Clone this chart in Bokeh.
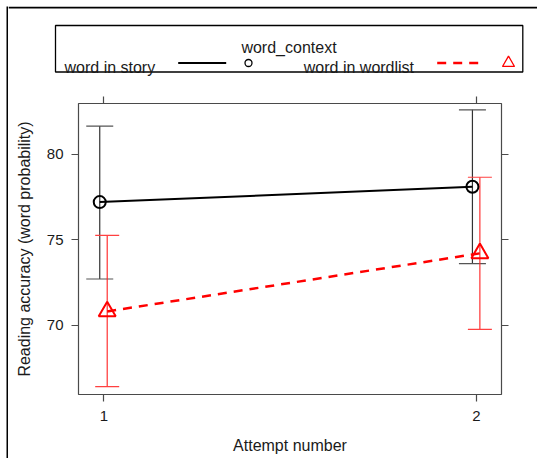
import numpy as np
from bokeh.plotting import figure
from bokeh.models import ColumnDataSource, Whisker, TeeHead, Range1d, LinearAxis, FixedTicker
from bokeh.layouts import column, row
from bokeh.embed import file_html
from bokeh.resources import INLINE
from bokeh.core.properties import value

# ---- data ----
attempts = [1, 2]
contexts = ["word in story", "word in wordlist"]
story_mean = [77.2, 78.1]
story_lower = [72.7, 73.6]
story_upper = [81.65, 82.6]
wordlist_mean = [70.8, 74.2]
wordlist_lower = [66.4, 69.75]
wordlist_upper = [75.25, 78.65]
x_ticks = [1, 2]
y_ticks = [70, 75, 80]
legend_title = "word_context"
x_label = "Attempt number"
y_label = "Reading accuracy (word probability)"

FONT = "Liberation Sans"
FRAME = "#4a4a4a"
TXT = "#1a1a1a"
DODGE_STORY = -0.011
DODGE_LIST = 0.009

# ---- main plot ----
p = figure(width=521, height=370, x_range=Range1d(0.932, 2.067), y_range=Range1d(65.94, 82.97),
           output_backend="svg", toolbar_location=None,
           min_border_left=70, min_border_right=28, min_border_top=15, min_border_bottom=64)
p.frame_align = False
p.grid.visible = False
p.outline_line_color = FRAME
p.outline_line_width = 1.2

def style_axis(ax, ticks, show_labels=True):
    ax.ticker = FixedTicker(ticks=ticks)
    ax.axis_line_color = None
    ax.major_tick_out = 7
    ax.major_tick_in = 0
    ax.minor_tick_line_color = None
    ax.major_tick_line_color = FRAME
    ax.major_tick_line_width = 1.2
    ax.major_label_text_font = FONT
    ax.major_label_text_color = TXT
    ax.major_label_text_font_size = "15px"
    ax.axis_label_text_font = FONT
    ax.axis_label_text_color = TXT
    ax.axis_label_text_font_style = "normal"
    ax.axis_label_text_font_size = "16px"
    if not show_labels:
        ax.major_label_overrides = {t: "" for t in ticks}
        ax.major_label_standoff = 0

style_axis(p.xaxis[0], x_ticks)
style_axis(p.yaxis[0], y_ticks)
p.xaxis[0].axis_label = x_label
p.yaxis[0].axis_label = y_label
p.xaxis[0].major_label_standoff = 9
p.xaxis[0].axis_label_standoff = 13
p.yaxis[0].major_label_standoff = 8
p.yaxis[0].axis_label_standoff = 11

top_ax = LinearAxis()
style_axis(top_ax, x_ticks, show_labels=False)
p.add_layout(top_ax, "above")
right_ax = LinearAxis()
style_axis(right_ax, y_ticks, show_labels=False)
p.add_layout(right_ax, "right")

src_story = ColumnDataSource(dict(x=np.array(attempts) + DODGE_STORY, y=story_mean,
                                  lo=story_lower, hi=story_upper))
src_list = ColumnDataSource(dict(x=np.array(attempts) + DODGE_LIST, y=wordlist_mean,
                                 lo=wordlist_lower, hi=wordlist_upper))

wb = Whisker(base="x", upper="hi", lower="lo", source=src_story, dimension="height",
             line_color="#333333", line_width=1.2,
             upper_head=TeeHead(size=27, line_color="#555555", line_width=1.2),
             lower_head=TeeHead(size=27, line_color="#555555", line_width=1.2))
wr = Whisker(base="x", upper="hi", lower="lo", source=src_list, dimension="height",
             line_color="#ff2020", line_width=1.1,
             upper_head=TeeHead(size=24, line_color="#ff4040", line_width=1.1),
             lower_head=TeeHead(size=24, line_color="#ff4040", line_width=1.1))
p.add_layout(wb)
p.add_layout(wr)

p.line("x", "y", source=src_story, line_color="black", line_width=2)
p.scatter("x", "y", source=src_story, marker="circle", size=12, fill_color=None,
          line_color="black", line_width=2)
p.line("x", "y", source=src_list, line_color="red", line_width=2.5, line_dash="9 7")
p.scatter("x", "y", source=src_list, marker="triangle", size=17, fill_color=None,
          line_color="red", line_width=2)

# ---- legend (lattice-style key) with the picture's top border ----
lg = figure(width=529, height=82, x_range=Range1d(0, 529), y_range=Range1d(82, 0),
            output_backend="svg", toolbar_location=None, x_axis_type=None, y_axis_type=None,
            min_border=0)
lg.frame_align = False
lg.grid.visible = False
lg.outline_line_color = None
lg.quad(left=[0], right=[529], top=[0], bottom=[2], fill_color="black", line_color=None)
lg.quad(left=[47], right=[514.3], top=[19], bottom=[65.5], fill_color=None,
        line_color="black", line_width=1.3)
lg.text(x=[280.5], y=[41], text=[legend_title], text_align="center", text_baseline="alphabetic",
        text_font=value(FONT), text_font_size="16px", text_color=TXT)
lg.text(x=[56, 295.3], y=[61, 61], text=contexts, text_align="left", text_baseline="alphabetic",
        text_font=value(FONT), text_font_size="16px", text_color=TXT)
lg.line(x=[169.7, 217.7], y=[56.5, 56.5], line_color="black", line_width=2)
lg.scatter(x=[240], y=[56.5], marker="circle", size=7, fill_color=None, line_color="black",
           line_width=1.3)
lg.line(x=[428.7, 472], y=[56.5, 56.5], line_color="red", line_width=2.5, line_dash="9 7")
lg.scatter(x=[500], y=[56.5], marker="triangle", size=12, fill_color=None, line_color="red",
           line_width=1.3)

# ---- left border of the picture ----
left_bar = figure(width=2, height=452, output_backend="svg", toolbar_location=None,
                  x_axis_type=None, y_axis_type=None, min_border=0,
                  background_fill_color="black", border_fill_color="black")
left_bar.frame_align = False
left_bar.outline_line_color = None
left_bar.grid.visible = False

layout = row(left_bar, column(lg, p, spacing=0), spacing=0, margin=(6, 0, 0, 6))

open("out.html", "w").write(file_html(layout, INLINE))
